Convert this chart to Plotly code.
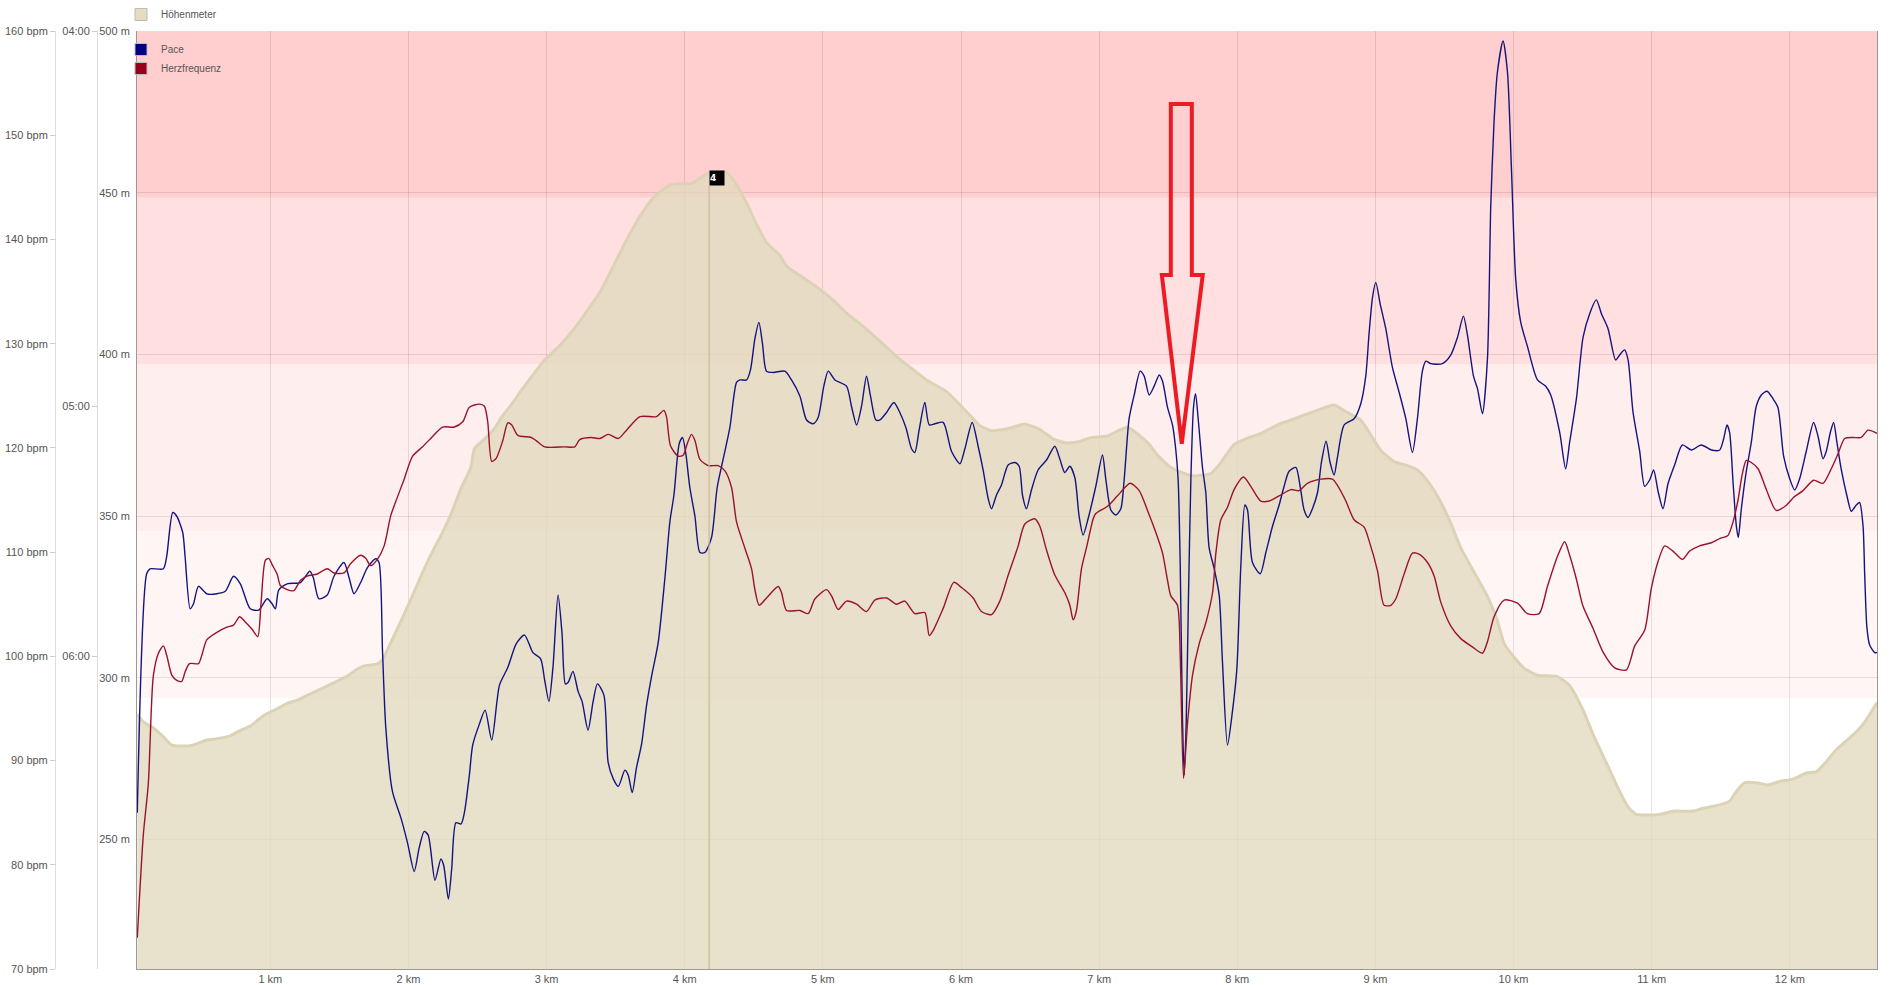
import plotly.graph_objects as go

# ---------------- data ----------------
pace_km = [
    0.037, 0.105, 0.129, 0.226, 0.250, 0.294, 0.323, 0.366, 0.383, 0.420,
    0.444, 0.480, 0.541, 0.613, 0.674, 0.734, 0.783, 0.855, 0.916, 0.977,
    1.013, 1.037, 1.061, 1.122, 1.219, 1.286, 1.311, 1.352, 1.412, 1.461,
    1.533, 1.570, 1.606, 1.654, 1.703, 1.763, 1.787, 1.812, 1.836, 1.884,
    1.945, 1.993, 2.042, 2.078, 2.114, 2.143, 2.192, 2.235, 2.255, 2.289,
    2.313, 2.344, 2.381, 2.405, 2.441, 2.465, 2.514, 2.555, 2.603, 2.659,
    2.719, 2.780, 2.840, 2.901, 2.957, 2.986, 3.017, 3.046, 3.083, 3.112,
    3.136, 3.155, 3.191, 3.228, 3.257, 3.300, 3.337, 3.368,
    3.415, 3.446, 3.483, 3.519, 3.567, 3.591, 3.620, 3.651, 3.688, 3.724,
    3.760, 3.808, 3.856, 3.893, 3.922, 3.960, 3.984, 4.008, 4.037, 4.074,
    4.110, 4.146, 4.194, 4.235, 4.279, 4.327, 4.375, 4.399, 4.448, 4.476,
    4.508, 4.537, 4.563, 4.592, 4.641, 4.725, 4.773, 4.834, 4.882, 4.930,
    4.966, 5.007, 5.039, 5.087, 5.171, 5.207, 5.244, 5.280, 5.316, 5.345,
    5.384, 5.413, 5.461, 5.514, 5.557, 5.601, 5.642, 5.666, 5.697, 5.738,
    5.770, 5.811, 5.871, 5.931, 5.992, 6.028, 6.081, 6.124, 6.160, 6.197,
    6.221, 6.257, 6.293, 6.341, 6.390, 6.421, 6.445, 6.474, 6.510, 6.558,
    6.619, 6.679, 6.715, 6.751, 6.788, 6.824, 6.855, 6.884, 6.920,
    6.976, 7.024, 7.049, 7.085, 7.121, 7.157, 7.181, 7.217, 7.254, 7.297,
    7.326, 7.362, 7.398, 7.435, 7.459, 7.495, 7.531, 7.555, 7.572, 7.587,
    7.603, 7.616, 7.630, 7.647, 7.664, 7.683, 7.698, 7.717, 7.748, 7.772,
    7.796, 7.833, 7.869, 7.893, 7.929, 7.965, 7.997, 8.026, 8.055, 8.074,
    8.110, 8.166, 8.207, 8.255, 8.303, 8.339, 8.375, 8.424, 8.455, 8.484,
    8.513, 8.544, 8.581, 8.609, 8.643, 8.672, 8.701, 8.725, 8.774, 8.846,
    8.894, 8.930, 8.954, 8.979, 9.003, 9.034, 9.075, 9.123, 9.172, 9.220,
    9.268, 9.304, 9.340, 9.365, 9.401, 9.485, 9.546, 9.594, 9.637, 9.666,
    9.710, 9.739, 9.775, 9.811, 9.835, 9.859, 9.883, 9.924, 9.956, 9.985,
    10.016, 10.052, 10.100, 10.173, 10.233, 10.269,
    10.334, 10.377, 10.406, 10.455, 10.503, 10.551, 10.599, 10.636, 10.684, 10.739,
    10.768, 10.804, 10.829, 10.865, 10.913, 10.949, 10.985, 11.014, 11.046, 11.082,
    11.118, 11.166, 11.222, 11.287, 11.359, 11.432, 11.492, 11.521, 11.545, 11.564,
    11.589, 11.613, 11.627, 11.649, 11.685, 11.721, 11.757, 11.794, 11.835, 11.878,
    11.914, 11.955, 11.999, 12.035, 12.071, 12.119, 12.172, 12.204, 12.240, 12.264,
    12.293, 12.317, 12.341, 12.373, 12.414, 12.445, 12.481, 12.505, 12.530, 12.542,
    12.558, 12.578, 12.614, 12.631,
]
# speed in km/h (the axis is labelled as pace min/km)
pace_kmh = [
    8.75, 10.66, 10.70, 10.70, 10.80, 11.15, 11.12, 10.99, 10.80, 10.38,
    10.42, 10.56, 10.50, 10.50, 10.52, 10.64, 10.58, 10.38, 10.37, 10.46,
    10.42, 10.38, 10.53, 10.58, 10.59, 10.68, 10.63, 10.46, 10.49, 10.64,
    10.75, 10.63, 10.50, 10.59, 10.71, 10.78, 10.75, 10.05, 9.43, 8.92,
    8.71, 8.51, 8.28, 8.47, 8.60, 8.57, 8.21, 8.38, 8.33, 8.06,
    8.30, 8.67, 8.66, 8.75, 9.05, 9.29, 9.46, 9.57, 9.33, 9.77,
    9.91, 10.10, 10.17, 10.03, 9.98, 9.81, 9.64, 9.91, 10.49, 10.18,
    9.78, 9.79, 9.88, 9.72, 9.64, 9.41, 9.64, 9.78,
    9.69, 9.15, 9.02, 8.96, 9.09, 9.05, 8.91, 9.11, 9.30, 9.61,
    9.84, 10.11, 10.62, 11.08, 11.29, 11.70, 11.75, 11.62, 11.35, 11.12,
    10.83, 10.83, 10.95, 11.35, 11.58, 11.83, 12.19, 12.21, 12.21, 12.29,
    12.54, 12.67, 12.50, 12.28, 12.27, 12.28, 12.21, 12.08, 11.89, 11.86,
    11.91, 12.16, 12.28, 12.21, 12.16, 12.00, 11.85, 12.00, 12.24, 12.08,
    11.89, 11.89, 11.95, 12.03, 11.95, 11.83, 11.66, 11.63, 11.81, 12.03,
    11.85, 11.86, 11.87, 11.64, 11.54, 11.66, 11.87, 11.68, 11.49, 11.26,
    11.18, 11.29, 11.37, 11.53, 11.55, 11.52, 11.29, 11.18, 11.33, 11.49,
    11.57, 11.68, 11.58, 11.47, 11.52, 11.43, 11.12, 10.97, 11.10,
    11.36, 11.61, 11.41, 11.17, 11.13, 11.18, 11.41, 11.90, 12.09, 12.28,
    12.24, 12.09, 12.16, 12.25, 12.20, 11.99, 11.85, 11.65, 11.41, 10.73,
    9.51, 9.05, 9.46, 10.49, 11.41, 11.99, 12.10, 11.90, 11.51, 11.31,
    10.87, 10.70, 10.49, 9.95, 9.29, 9.56, 9.90, 10.73, 11.21, 11.17,
    10.75, 10.66, 10.83, 11.04, 11.21, 11.36, 11.48, 11.51, 11.36, 11.17,
    11.11, 11.18, 11.31, 11.55, 11.72, 11.55, 11.45, 11.59, 11.85, 11.90,
    12.02, 12.24, 12.58, 12.87, 12.99, 12.82, 12.62, 12.31, 12.11, 11.90,
    11.63, 11.90, 12.28, 12.36, 12.34, 12.34, 12.41, 12.55, 12.72, 12.57,
    12.24, 12.14, 11.94, 12.38, 13.60, 14.28, 14.67, 14.92, 14.67, 13.89,
    13.01, 12.67, 12.48, 12.21, 12.16, 12.09,
    11.79, 11.50, 11.71, 12.06, 12.55, 12.74, 12.85, 12.74, 12.62, 12.37,
    12.41, 12.45, 12.37, 11.95, 11.64, 11.36, 11.41, 11.49, 11.32, 11.18,
    11.38, 11.53, 11.69, 11.65, 11.69, 11.65, 11.65, 11.74, 11.85, 11.79,
    11.39, 11.04, 10.95, 11.18, 11.48, 11.71, 12.00, 12.09, 12.12, 12.06,
    11.99, 11.60, 11.42, 11.33, 11.42, 11.64, 11.87, 11.76, 11.58, 11.64,
    11.79, 11.87, 11.71, 11.49, 11.28, 11.16, 11.21, 11.23, 11.04, 10.65,
    10.23, 10.09, 10.03, 10.03,
]

hr_km = [
    0.037, 0.081, 0.117, 0.153, 0.190, 0.226, 0.250, 0.287, 0.323, 0.359,
    0.383, 0.415, 0.480, 0.504, 0.541, 0.613, 0.686, 0.734, 0.778, 0.819,
    0.868, 0.909, 0.933, 0.964, 0.989, 1.013, 1.049, 1.073, 1.122, 1.170,
    1.219, 1.267, 1.340, 1.412, 1.461, 1.533, 1.582, 1.654, 1.691, 1.727,
    1.775, 1.824, 1.872, 1.921, 1.969, 2.030, 2.102, 2.175, 2.247, 2.332,
    2.393, 2.441, 2.514, 2.550, 2.574, 2.603, 2.635, 2.683, 2.719, 2.748,
    2.792, 2.889, 2.925, 2.986, 3.131, 3.204, 3.240, 3.325,
    3.386, 3.446, 3.519, 3.579, 3.676, 3.796, 3.849, 3.868, 3.897, 3.953,
    3.989, 4.018, 4.049, 4.074, 4.110, 4.170, 4.242, 4.291, 4.339, 4.375,
    4.435, 4.484, 4.508, 4.539, 4.592, 4.677, 4.701, 4.737, 4.834, 4.894,
    4.942, 5.027, 5.063, 5.111, 5.171, 5.244, 5.316, 5.376, 5.461, 5.533,
    5.593, 5.666, 5.738, 5.770, 5.799, 5.871, 5.948, 6.004, 6.088, 6.148,
    6.221, 6.281, 6.342, 6.414, 6.462, 6.534, 6.570, 6.619, 6.679, 6.752,
    6.788, 6.812, 6.836, 6.872, 6.908, 6.957,
    6.976, 7.061, 7.133, 7.225, 7.290, 7.350, 7.410, 7.459, 7.495, 7.519,
    7.567, 7.587, 7.611, 7.640, 7.676, 7.724, 7.772, 7.821, 7.845, 7.881,
    7.929, 7.977, 8.045, 8.098, 8.170, 8.231, 8.303, 8.388, 8.448, 8.508,
    8.605, 8.689, 8.725, 8.786, 8.846, 8.918, 8.954, 9.015, 9.063, 9.111,
    9.147, 9.208, 9.268, 9.316, 9.377, 9.425, 9.473, 9.546, 9.618, 9.702,
    9.775, 9.811, 9.859, 9.932, 10.028, 10.100, 10.185, 10.245, 10.318,
    10.370, 10.406, 10.455, 10.503, 10.575, 10.648, 10.732, 10.817, 10.877, 10.949,
    10.997, 11.046, 11.094, 11.154, 11.222, 11.275, 11.347, 11.432, 11.492, 11.552,
    11.589, 11.625, 11.656, 11.685, 11.721, 11.770, 11.830, 11.902, 11.975, 12.023,
    12.095, 12.172, 12.240, 12.300, 12.348, 12.397, 12.457, 12.517, 12.566, 12.631,
]
hr_bpm = [
    73.0, 82.9, 87.8, 98.1, 100.3, 101.0, 100.1, 98.2, 97.7, 97.6,
    98.5, 99.3, 99.3, 100.1, 101.6, 102.3, 102.8, 103.0, 103.8, 103.3,
    102.6, 101.9, 105.1, 109.2, 109.4, 108.8, 107.9, 106.8, 106.4, 106.3,
    107.3, 107.7, 107.9, 108.4, 108.0, 108.0, 108.9, 109.7, 109.4, 108.7,
    109.3, 110.6, 113.5, 115.3, 117.0, 119.2, 120.1, 121.1, 122.0, 122.0,
    122.5, 123.9, 124.2, 124.0, 122.5, 118.7, 119.0, 120.7, 122.4, 122.2,
    121.2, 121.0, 120.7, 120.1, 120.1, 120.1, 120.8, 121.0,
    120.9, 121.3, 120.9, 121.7, 123.0, 123.0, 123.6, 123.0, 120.2, 119.2,
    119.3, 120.4, 121.3, 120.7, 118.9, 118.3, 118.3, 117.8, 116.2, 112.9,
    110.4, 108.4, 106.4, 104.9, 105.6, 106.7, 106.1, 104.4, 104.4, 104.1,
    105.5, 106.4, 105.8, 104.5, 105.3, 105.0, 104.3, 105.4, 105.6, 105.0,
    105.3, 104.1, 104.2, 102.0, 102.5, 104.6, 107.1, 106.6, 105.6, 104.3,
    104.0, 105.3, 107.8, 110.6, 112.7, 113.2, 112.5, 110.2, 107.8, 106.1,
    104.9, 103.5, 104.4, 108.4, 110.4, 113.2,
    113.7, 114.4, 115.4, 116.6, 115.9, 114.0, 111.9, 109.9, 107.3, 105.8,
    104.9, 100.0, 88.3, 93.6, 98.2, 101.2, 103.2, 106.1, 109.9, 113.1,
    114.3, 116.0, 117.2, 116.3, 114.9, 114.9, 115.4, 116.0, 115.9, 116.6,
    117.0, 117.0, 116.4, 114.9, 113.1, 112.4, 111.1, 108.2, 104.9, 104.9,
    105.5, 107.9, 109.9, 109.8, 109.0, 107.7, 105.2, 102.9, 101.7, 100.9,
    100.3, 101.4, 103.8, 105.4, 105.1, 104.1, 104.1, 106.7, 109.6,
    111.0, 109.7, 107.4, 104.8, 102.7, 100.4, 98.9, 98.7, 101.0, 102.5,
    106.5, 109.1, 110.6, 110.1, 109.3, 110.1, 110.6, 110.9, 111.3, 111.6,
    112.9, 115.0, 117.5, 118.8, 118.6, 118.0, 116.0, 114.0, 114.5, 115.2,
    115.9, 116.9, 116.6, 118.0, 119.4, 120.9, 121.0, 121.0, 121.7, 121.4,
]

elev_km = [
    0.037, 0.081, 0.153, 0.226, 0.287, 0.420, 0.541, 0.613, 0.710, 0.783,
    0.855, 0.952, 1.049, 1.122, 1.194, 1.291, 1.388, 1.485, 1.557, 1.630,
    1.679, 1.775, 1.812, 1.872, 1.945, 2.017, 2.090, 2.163, 2.235, 2.308,
    2.381, 2.453, 2.477, 2.550, 2.623, 2.671, 2.744, 2.816, 2.889, 2.986,
    3.083, 3.155, 3.228, 3.300,
    3.386, 3.483, 3.579, 3.676, 3.772, 3.893, 3.965, 4.049, 4.110, 4.182,
    4.303, 4.351, 4.448, 4.520, 4.592, 4.689, 4.737, 4.834, 4.954, 5.075,
    5.171, 5.268, 5.364, 5.461, 5.557, 5.654, 5.750, 5.895, 5.992, 6.064,
    6.136, 6.221, 6.305, 6.378, 6.462, 6.571, 6.667, 6.764, 6.860, 6.932,
    7.061, 7.133, 7.205, 7.278, 7.362, 7.423, 7.519, 7.616, 7.688, 7.809,
    7.881, 7.977, 8.050, 8.170, 8.291, 8.412, 8.532, 8.629, 8.701, 8.798,
    8.894, 8.954, 9.039, 9.135, 9.232, 9.304, 9.377, 9.461, 9.546, 9.618,
    9.714, 9.811, 9.883, 9.932, 10.004, 10.076, 10.173, 10.318,
    10.406, 10.503, 10.575, 10.672, 10.768, 10.829, 10.889, 11.058, 11.154, 11.299,
    11.371, 11.468, 11.564, 11.613, 11.673, 11.757, 11.842, 11.926, 12.023, 12.119,
    12.192, 12.264, 12.336, 12.409, 12.481, 12.529, 12.578, 12.631,
]
elev_m = [
    288.7, 286.4, 284.5, 281.8, 279.2, 279.0, 280.8, 281.2, 282.1, 283.8,
    285.1, 288.4, 290.4, 292.1, 293.1, 295.1, 297.0, 299.0, 300.6, 302.7,
    303.7, 304.3, 305.6, 310.9, 317.5, 324.2, 331.4, 338.1, 344.0, 350.6,
    358.6, 365.2, 370.8, 373.8, 377.1, 380.4, 384.4, 388.8, 393.0, 398.3,
    402.2, 405.6, 409.5, 413.9,
    419.2, 427.3, 435.4, 442.7, 448.4, 452.4, 452.8, 452.9, 454.5, 456.2,
    456.2, 454.0, 446.8, 440.3, 434.6, 430.6, 427.3, 424.4, 420.9, 416.8,
    412.8, 409.5, 406.0, 402.2, 398.5, 395.3, 392.1, 388.5, 384.4, 381.2,
    378.0, 376.4, 376.8, 377.5, 378.5, 376.8, 373.9, 372.6, 373.1, 374.2,
    374.8, 376.3, 377.5, 375.4, 372.2, 368.8, 365.1, 363.2, 362.4, 363.2,
    366.6, 372.2, 373.7, 375.6, 378.2, 380.1, 382.0, 383.5, 384.4, 382.0,
    379.7, 376.0, 370.3, 366.9, 365.6, 364.3, 360.9, 355.3, 347.8, 340.2,
    332.7, 325.2, 317.7, 310.6, 306.4, 303.0, 300.8, 300.4,
    297.6, 290.1, 282.6, 273.7, 264.9, 260.1, 257.8, 257.8, 258.8, 258.8,
    259.7, 260.5, 261.9, 264.9, 267.6, 267.6, 266.9, 268.0, 268.7, 270.6,
    271.0, 274.1, 277.8, 280.5, 283.3, 285.6, 288.7, 292.4,
]

# heart-rate zones (bpm)
zone_bounds = [96, 112, 128, 144, 160]
zone_colors = ["#FFF5F5", "#FFEEEE", "#FFDFDF", "#FFCFCF"]

# lap marker
lap_km = [4.177]
lap_label = ["4"]
lap_label_elev = [452.0]

# axis ticks
x_ticks = list(range(1, 13))
x_ticktext = [f"{k} km" for k in x_ticks]
elev_ticks = [250, 300, 350, 400, 450, 500]
elev_ticktext = [f"{v} m" for v in elev_ticks]
pace_ticks = [15, 12, 10]           # km/h
pace_ticktext = ["04:00", "05:00", "06:00"]
bpm_ticks = list(range(70, 161, 10))
bpm_ticktext = [f"{v} bpm" for v in bpm_ticks]

# annotation arrow (km, bpm)
arrow_x = [7.519, 7.671, 7.671, 7.750, 7.598, 7.454, 7.519]
arrow_y = [153.0, 153.0, 136.6, 136.6, 120.4, 136.6, 136.6]

# ---------------- figure ----------------
W, H = 1893, 985
ML, MR, MT, MB = 0, 16, 31, 16
PW = W - ML - MR
PH = H - MT - MB
PLOT_LEFT = 137

FONT = "Liberation Sans, Arial, sans-serif"
TXT = "#555555"
GRID = "rgba(0,0,0,0.10)"
PACE_C = "#141480"
HR_C = "#99122E"
ELEV_FILL = "rgba(226,218,190,0.78)"
ELEV_LINE = "#DCD3B6"

fig = go.Figure()

fig.add_trace(go.Scatter(
    x=elev_km, y=elev_m, yaxis="y", mode="lines", name="Höhenmeter",
    fill="tozeroy", fillcolor=ELEV_FILL,
    line=dict(color=ELEV_LINE, width=3, shape="spline", smoothing=0.5),
    showlegend=False, legendgroup="elev",
))
fig.add_trace(go.Scatter(
    x=pace_km, y=pace_kmh, yaxis="y2", mode="lines", name="Pace",
    line=dict(color=PACE_C, width=1.4, shape="spline", smoothing=0.7),
    showlegend=False, legendgroup="pace",
))
fig.add_trace(go.Scatter(
    x=hr_km, y=hr_bpm, yaxis="y3", mode="lines", name="Herzfrequenz",
    line=dict(color=HR_C, width=1.4, shape="spline", smoothing=0.7),
    showlegend=False, legendgroup="hr",
))

# legend swatches
for name, col, grp, lg in [("Höhenmeter", "#E6DDC0", "elev", "legend"),
                            ("Pace", "#000080", "pace", "legend2"),
                            ("Herzfrequenz", "#990019", "hr", "legend2")]:
    fig.add_trace(go.Bar(x=[None], y=[None], name=name, legendgroup=grp, legend=lg,
                         marker=dict(color=col, line=dict(color="#BBBBBB", width=1)),
                         showlegend=True, hoverinfo="skip"))

# HR zone bands
for lo, hi, col in zip(zone_bounds[:-1], zone_bounds[1:], zone_colors):
    fig.add_shape(type="rect", xref="x domain", yref="y3", x0=0, x1=1, y0=lo, y1=hi,
                  fillcolor=col, line=dict(width=0), layer="below")

# lap marker
for k, lab, ev in zip(lap_km, lap_label, lap_label_elev):
    fig.add_shape(type="line", xref="x", yref="y", x0=k, x1=k, y0=210, y1=ev,
                  line=dict(color="rgba(200,188,150,0.65)", width=2), layer="above")
    fig.add_annotation(x=k, y=ev, xref="x", yref="y", text=f"<b>{lab}</b>",
                       showarrow=False, xanchor="left", yanchor="bottom",
                       bgcolor="#000000", font=dict(color="#FFFFFF", size=9, family="DejaVu Sans"),
                       width=14, height=14, align="left", borderpad=0)

# red arrow annotation
path = "M " + " L ".join(f"{x},{y}" for x, y in zip(arrow_x, arrow_y)) + " Z"
fig.add_shape(type="path", xref="x", yref="y3", path=path,
              line=dict(color="#ED1C24", width=4), fillcolor="rgba(0,0,0,0)", layer="above")

axis_font = dict(family=FONT, size=11, color=TXT)
fig.update_layout(
    width=W, height=H, autosize=False,
    margin=dict(l=ML, r=MR, t=MT, b=MB, pad=0),
    paper_bgcolor="white", plot_bgcolor="white",
    font=dict(family=FONT, size=11, color=TXT),
    hovermode=False,
    xaxis=dict(domain=[PLOT_LEFT / PW, 1], range=[0.035, 12.631],
               tickvals=x_ticks, ticktext=x_ticktext, tickfont=axis_font,
               showgrid=True, gridcolor=GRID, gridwidth=1,
               showline=True, linecolor="#999999", linewidth=1,
               ticks="", zeroline=False, fixedrange=True),
    yaxis=dict(range=[210, 500], tickvals=elev_ticks, ticktext=elev_ticktext,
               tickfont=axis_font, showgrid=True, gridcolor=GRID,
               showline=True, mirror=True, linecolor="#999999", linewidth=1,
               ticks="outside", ticklen=4, tickcolor="rgba(0,0,0,0)",
               zeroline=False, fixedrange=True),
    yaxis2=dict(range=[7.5, 15], tickvals=pace_ticks, ticktext=pace_ticktext,
                overlaying="y", anchor="free", position=97 / PW, side="left",
                tickfont=axis_font, showgrid=False, zeroline=False,
                showline=True, linecolor="#DDDDDD", linewidth=1,
                ticks="outside", ticklen=5, tickcolor="#CCCCCC", fixedrange=True),
    yaxis3=dict(range=[70, 160], tickvals=bpm_ticks, ticktext=bpm_ticktext,
                overlaying="y", anchor="free", position=55 / PW, side="left",
                tickfont=axis_font, showgrid=False, zeroline=False,
                showline=True, linecolor="#DDDDDD", linewidth=1,
                ticks="outside", ticklen=5, tickcolor="#CCCCCC", fixedrange=True),
    legend=dict(x=121 / PW, y=1 + 17 / PH, xanchor="left", yanchor="middle",
                orientation="v", bgcolor="rgba(0,0,0,0)", borderwidth=0,
                font=dict(family=FONT, size=10, color=TXT), itemclick="toggle"),
    legend2=dict(x=121 / PW, y=1 - 4 / PH, xanchor="left", yanchor="top",
                 orientation="v", bgcolor="rgba(0,0,0,0)", borderwidth=0,
                 font=dict(family=FONT, size=10, color=TXT), tracegroupgap=0),
    barmode="overlay",
)

fig.write_html("out.html", config={"displayModeBar": False},
               post_script="document.body.style.margin='0';document.body.style.overflow='hidden';")
